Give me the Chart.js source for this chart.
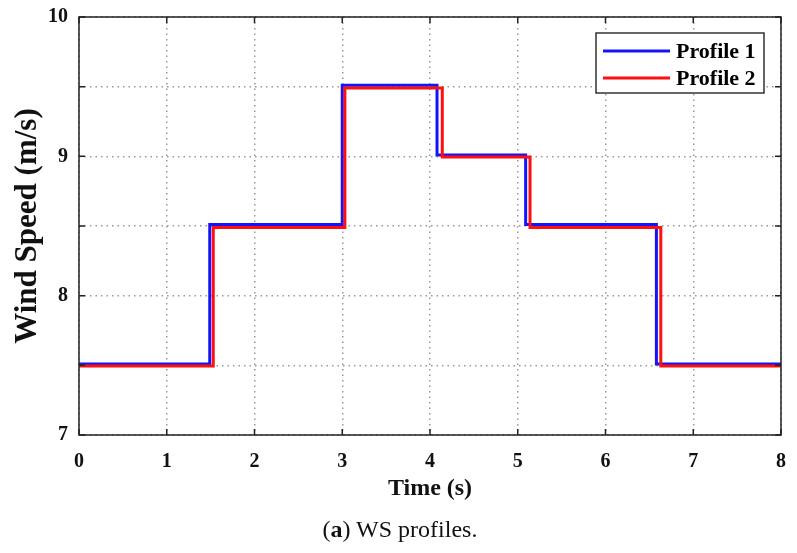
<!DOCTYPE html>
<html>
<head>
<meta charset="utf-8">
<script src="https://cdn.jsdelivr.net/npm/chart.js@4"></script>
<style>
  body { margin: 0; background: #fff; }
  #wrap { position: relative; width: 797px; height: 553px; }
  #caption {
    position: absolute; left: 0; width: 800px; top: 516px;
    text-align: center; font-family: "Liberation Serif", serif; font-size: 24px; color: #111;
  }
</style>
</head>
<body>
<div id="wrap">
  <canvas id="ws" width="797" height="553"></canvas>
  <div id="caption">(<b>a</b>) WS profiles.</div>
</div>
<script>
// step profiles: time at which each level starts, and the level
const profile1Times  = [0, 1.49, 3.00, 4.08, 5.09, 6.58, 8];
const profile1Speeds = [7.51, 8.51, 9.51, 9.01, 8.51, 7.51, 7.51];
const profile2Times  = [0, 1.53, 3.03, 4.14, 5.14, 6.63, 8];
const profile2Speeds = [7.495, 8.49, 9.49, 8.995, 8.49, 7.495, 7.495];
const seriesLabels = ['Profile 1', 'Profile 2'];
const seriesColors = ['#1414f8', '#ff1010'];

const serif = '"Liberation Serif", "Times New Roman", serif';

function toPoints(xs, ys) {
    return xs.map((x, i) => ({x: x, y: ys[i]}));
}

// frame with inward ticks on all four sides
const framePlugin = {
    id: 'frame',
    afterDatasetsDraw(chart) {
        const ctx = chart.ctx, a = chart.chartArea;
        const xs = chart.scales.x, ys = chart.scales.y;
        ctx.save();
        ctx.strokeStyle = '#222';
        ctx.lineWidth = 1.5;
        ctx.strokeRect(a.left, a.top, a.right - a.left, a.bottom - a.top);
        const len = 6;
        ctx.beginPath();
        xs.ticks.forEach(t => {
            const px = xs.getPixelForValue(t.value);
            ctx.moveTo(px, a.bottom); ctx.lineTo(px, a.bottom - len);
            ctx.moveTo(px, a.top); ctx.lineTo(px, a.top + len);
        });
        ys.ticks.forEach(t => {
            const py = ys.getPixelForValue(t.value);
            ctx.moveTo(a.left, py); ctx.lineTo(a.left + len, py);
            ctx.moveTo(a.right, py); ctx.lineTo(a.right - len, py);
        });
        ctx.stroke();
        ctx.restore();
    }
};

// legend box inside the top right of the plot
const boxLegend = {
    id: 'boxLegend',
    afterDraw(chart) {
        const ctx = chart.ctx, a = chart.chartArea;
        const w = 168, h = 60;
        const x0 = a.right - 17 - w, y0 = a.top + 16;
        ctx.save();
        ctx.fillStyle = '#fff';
        ctx.fillRect(x0, y0, w, h);
        ctx.strokeStyle = '#333';
        ctx.lineWidth = 1.5;
        ctx.strokeRect(x0, y0, w, h);
        ctx.font = 'bold 22px ' + serif;
        ctx.textBaseline = 'middle';
        ctx.fillStyle = '#000';
        chart.data.datasets.forEach((ds, i) => {
            const y = y0 + 18 + i * 27;
            ctx.strokeStyle = ds.borderColor;
            ctx.lineWidth = 3;
            ctx.beginPath();
            ctx.moveTo(x0 + 7, y); ctx.lineTo(x0 + 74, y);
            ctx.stroke();
            ctx.fillText(ds.label, x0 + 80, y + 1);
        });
        ctx.restore();
    }
};

const data = {
    datasets: [
        {
            label: seriesLabels[0],
            data: toPoints(profile1Times, profile1Speeds),
            borderColor: seriesColors[0],
            borderWidth: 3,
            stepped: 'before',
            pointRadius: 0,
            fill: false,
            order: 1
        },
        {
            label: seriesLabels[1],
            data: toPoints(profile2Times, profile2Speeds),
            borderColor: seriesColors[1],
            borderWidth: 3,
            stepped: 'before',
            pointRadius: 0,
            fill: false,
            order: 0
        }
    ]
};

const grid = {
    color: '#999',
    lineWidth: 1.5,
    drawTicks: false
};

const config = {
    type: 'line',
    data: data,
    options: {
        responsive: false,
        animation: false,
        layout: { padding: { top: 17, right: 16, left: 0, bottom: 50 } },
        plugins: { legend: { display: false }, tooltip: { enabled: false } },
        scales: {
            x: {
                type: 'linear',
                min: 0, max: 8,
                ticks: { stepSize: 1, padding: 15, color: '#111',
                         font: { family: serif, size: 20, weight: 'bold' } },
                grid: grid,
                border: { display: false, dash: [1.5, 4] },
                title: { display: true, text: 'Time (s)', color: '#111',
                         font: { family: serif, size: 24, weight: 'bold' },
                         padding: { top: 0, bottom: 0 } },
                afterFit(scale) {
                    scale.height = 68;
                    scale.paddingLeft = 0;
                    scale.paddingRight = 0;
                }
            },
            y: {
                min: 7, max: 10,
                ticks: { stepSize: 0.5, padding: 11, color: '#111',
                         font: { family: serif, size: 20, weight: 'bold' },
                         // grid every 0.5, labels only on whole numbers
                         callback: v => Number.isInteger(v) ? String(v) : '' },
                grid: grid,
                border: { display: false, dash: [1.5, 4] },
                title: { display: true, text: 'Wind Speed (m/s)', color: '#111',
                         font: { family: serif, size: 31, weight: 'bold' },
                         padding: { top: 9, bottom: 0 } },
                afterFit(scale) {
                    scale.width = 79;
                    scale.paddingTop = 0;
                    scale.paddingBottom = 0;
                }
            }
        }
    },
    plugins: [framePlugin, boxLegend]
};

let ctx = document.getElementById('ws').getContext('2d');
new Chart(ctx, config);
</script>
</body>
</html>
